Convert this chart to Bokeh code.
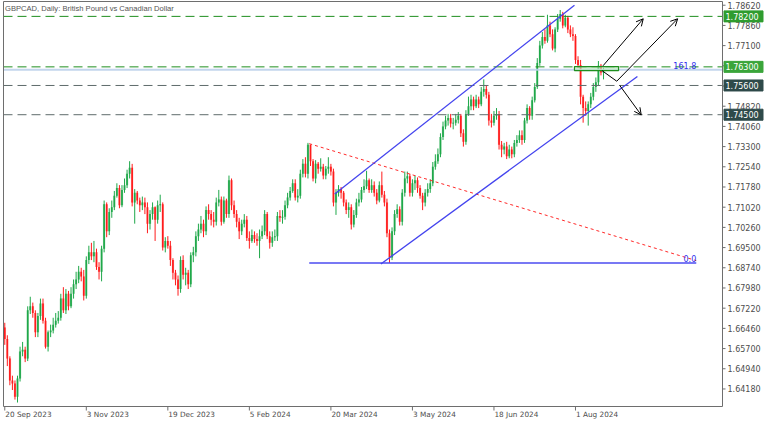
from bokeh.plotting import figure
from bokeh.models import ColumnDataSource, Arrow, OpenHead
from bokeh.core.properties import value
from bokeh.embed import file_html
from bokeh.resources import INLINE

# ---------------- data ----------------
title_text = "GBPCAD, Daily:  British Pound vs Canadian Dollar"

first_open = 1.6649
closes = [1.6606,1.6533,1.6450,1.6439,1.6389,1.6457,1.6559,1.6566,1.6533,1.6714,
1.6729,1.6704,1.6631,1.6693,1.6740,1.6675,1.6577,1.6631,1.6638,1.6660,
1.6675,1.6686,1.6758,1.6714,1.6776,1.6729,1.6776,1.6812,1.6830,1.6859,
1.6841,1.6769,1.6903,1.6932,1.6917,1.6932,1.6877,1.6859,1.6946,1.7113,
1.7011,1.7084,1.7102,1.7145,1.7174,1.7109,1.7167,1.7185,1.7228,1.7250,
1.7120,1.7156,1.7127,1.7109,1.7120,1.7102,1.7040,1.7076,1.7102,1.7055,
1.7109,1.7113,1.6950,1.6975,1.6957,1.6903,1.6855,1.6830,1.6794,1.6903,
1.6848,1.6855,1.6812,1.6921,1.6932,1.6993,1.7018,1.7040,1.7011,1.7091,
1.7076,1.7055,1.7047,1.7120,1.7131,1.7047,1.7127,1.7076,1.7203,1.7109,
1.7076,1.7047,1.7011,1.7040,1.7055,1.6986,1.6975,1.6997,1.6982,1.6975,
1.6993,1.7011,1.7076,1.6993,1.6968,1.6989,1.6993,1.7069,1.7062,1.7066,
1.7109,1.7138,1.7163,1.7192,1.7138,1.7145,1.7228,1.7265,1.7228,1.7337,
1.7275,1.7210,1.7265,1.7247,1.7254,1.7221,1.7247,1.7254,1.7236,1.7120,
1.7156,1.7170,1.7156,1.7120,1.7091,1.7102,1.7037,1.7073,1.7120,1.7131,
1.7167,1.7181,1.7203,1.7167,1.7185,1.7156,1.7127,1.7185,1.7149,1.7120,
1.7004,1.6913,1.7011,1.7076,1.7094,1.7047,1.7156,1.7210,1.7218,1.7156,
1.7192,1.7203,1.7174,1.7145,1.7120,1.7156,1.7170,1.7192,1.7254,1.7275,
1.7301,1.7366,1.7406,1.7428,1.7438,1.7417,1.7420,1.7431,1.7446,1.7380,
1.7348,1.7453,1.7482,1.7507,1.7482,1.7507,1.7489,1.7536,1.7547,1.7525,
1.7428,1.7420,1.7446,1.7453,1.7337,1.7319,1.7330,1.7294,1.7319,1.7301,
1.7344,1.7355,1.7373,1.7355,1.7428,1.7475,1.7446,1.7504,1.7554,1.7645,
1.7710,1.7742,1.7728,1.7786,1.7753,1.7699,1.7771,1.7811,1.7829,1.7786,
1.7815,1.7771,1.7753,1.7746,1.7656,1.7637,1.7518,1.7475,1.7464,1.7489,
1.7518,1.7554,1.7572,1.7634,1.7609,1.7612]

highs = [1.6667,1.6620,1.6541,1.6468,1.6450,1.6468,1.6577,1.6595,1.6577,1.6729,
1.6765,1.6743,1.6714,1.6704,1.6758,1.6758,1.6686,1.6638,1.6660,1.6686,
1.6704,1.6711,1.6776,1.6801,1.6794,1.6787,1.6801,1.6830,1.6859,1.6881,
1.6874,1.6866,1.6917,1.6957,1.6968,1.6975,1.6946,1.6895,1.6957,1.7127,
1.7120,1.7098,1.7127,1.7163,1.7192,1.7185,1.7185,1.7210,1.7243,1.7275,
1.7265,1.7170,1.7163,1.7138,1.7142,1.7138,1.7120,1.7091,1.7120,1.7105,
1.7127,1.7149,1.7120,1.6989,1.6993,1.6975,1.6910,1.6866,1.6845,1.6917,
1.6921,1.6874,1.6866,1.6932,1.6953,1.7011,1.7040,1.7069,1.7055,1.7105,
1.7113,1.7091,1.7084,1.7138,1.7167,1.7142,1.7142,1.7134,1.7221,1.7210,
1.7127,1.7091,1.7062,1.7055,1.7076,1.7069,1.7011,1.7018,1.7011,1.7004,
1.7018,1.7033,1.7091,1.7084,1.7011,1.7011,1.7018,1.7084,1.7091,1.7091,
1.7127,1.7156,1.7178,1.7207,1.7207,1.7170,1.7243,1.7283,1.7290,1.7344,
1.7337,1.7283,1.7279,1.7272,1.7286,1.7265,1.7257,1.7290,1.7265,1.7247,
1.7170,1.7185,1.7178,1.7163,1.7131,1.7120,1.7113,1.7091,1.7134,1.7156,
1.7178,1.7207,1.7239,1.7210,1.7207,1.7199,1.7170,1.7199,1.7236,1.7163,
1.7134,1.7018,1.7026,1.7091,1.7113,1.7105,1.7170,1.7236,1.7236,1.7228,
1.7207,1.7221,1.7214,1.7185,1.7156,1.7170,1.7192,1.7207,1.7272,1.7301,
1.7323,1.7380,1.7424,1.7446,1.7453,1.7453,1.7438,1.7453,1.7460,1.7453,
1.7395,1.7467,1.7518,1.7525,1.7518,1.7525,1.7518,1.7554,1.7583,1.7561,
1.7536,1.7453,1.7464,1.7475,1.7464,1.7351,1.7344,1.7348,1.7337,1.7330,
1.7355,1.7373,1.7391,1.7391,1.7438,1.7489,1.7482,1.7518,1.7569,1.7663,
1.7728,1.7761,1.7771,1.7826,1.7800,1.7771,1.7779,1.7829,1.7844,1.7837,
1.7826,1.7822,1.7786,1.7779,1.7753,1.7670,1.7656,1.7525,1.7500,1.7500,
1.7532,1.7569,1.7590,1.7652,1.7641,1.7627]

lows = [1.6584,1.6504,1.6432,1.6414,1.6378,1.6367,1.6446,1.6541,1.6519,1.6523,
1.6700,1.6686,1.6613,1.6613,1.6678,1.6664,1.6570,1.6559,1.6613,1.6627,
1.6649,1.6664,1.6675,1.6704,1.6700,1.6714,1.6722,1.6758,1.6794,1.6816,
1.6823,1.6751,1.6758,1.6888,1.6903,1.6895,1.6866,1.6830,1.6823,1.6932,
1.6989,1.6997,1.7062,1.7091,1.7138,1.7098,1.7102,1.7156,1.7174,1.7210,
1.7105,1.7040,1.7113,1.7084,1.7091,1.7076,1.7004,1.7018,1.7055,1.6975,
1.7040,1.7084,1.6939,1.6932,1.6946,1.6881,1.6830,1.6808,1.6769,1.6780,
1.6830,1.6808,1.6794,1.6801,1.6895,1.6917,1.6975,1.7004,1.6989,1.6997,
1.7055,1.7033,1.7026,1.7033,1.7105,1.7033,1.7040,1.7062,1.7062,1.7091,
1.7062,1.7026,1.6982,1.6997,1.7026,1.6975,1.6946,1.6968,1.6968,1.6957,
1.6910,1.6982,1.6997,1.6982,1.6946,1.6953,1.6975,1.6975,1.7047,1.7040,
1.7055,1.7098,1.7127,1.7156,1.7127,1.7120,1.7134,1.7214,1.7214,1.7210,
1.7257,1.7199,1.7192,1.7228,1.7236,1.7207,1.7207,1.7228,1.7221,1.7105,
1.7073,1.7142,1.7134,1.7105,1.7076,1.7062,1.7018,1.7026,1.7062,1.7105,
1.7120,1.7156,1.7170,1.7156,1.7156,1.7142,1.7113,1.7120,1.7138,1.7105,
1.6989,1.6892,1.6903,1.6997,1.7062,1.7033,1.7033,1.7142,1.7192,1.7142,
1.7142,1.7167,1.7156,1.7134,1.7091,1.7105,1.7142,1.7156,1.7181,1.7243,
1.7265,1.7290,1.7355,1.7395,1.7409,1.7402,1.7395,1.7409,1.7417,1.7366,
1.7330,1.7337,1.7446,1.7467,1.7467,1.7475,1.7475,1.7482,1.7518,1.7511,
1.7409,1.7402,1.7409,1.7431,1.7319,1.7290,1.7301,1.7283,1.7286,1.7286,
1.7290,1.7330,1.7344,1.7337,1.7344,1.7417,1.7431,1.7431,1.7496,1.7547,
1.7634,1.7699,1.7717,1.7721,1.7742,1.7692,1.7685,1.7761,1.7800,1.7775,
1.7779,1.7757,1.7742,1.7728,1.7641,1.7627,1.7489,1.7420,1.7446,1.7409,
1.7475,1.7504,1.7536,1.7561,1.7598,1.7583]

opens = [first_open] + closes[:-1]
bars = list(range(len(closes)))

date_tick_bars = [0, 32, 64, 96, 128, 160, 192, 224]
date_tick_labels = ["20 Sep 2023", "3 Nov 2023", "19 Dec 2023", "5 Feb 2024",
                    "20 Mar 2024", "3 May 2024", "18 Jun 2024", "1 Aug 2024"]
price_ticks = [1.7862, 1.7786, 1.7710, 1.7634, 1.7558, 1.7482, 1.7406, 1.7330, 1.7254,
               1.7178, 1.7102, 1.7026, 1.6950, 1.6874, 1.6798, 1.6722, 1.6646, 1.6570,
               1.6494, 1.6418]

green_levels = [1.7820, 1.7630]
gray_levels = [1.7560, 1.7450]
fib_1618_level = 1.7619
fib_zero_level = 1.6892
fib_bars = [119.5, 271.4]
fib_trend_prices = [1.7341, 1.6901]
channel_upper_bars = [129.5, 223.6]
channel_upper_prices = [1.7152, 1.7862]
channel_lower_bars = [147.6, 248.3]
channel_lower_prices = [1.6888, 1.7594]
zone_bars = [223.6, 240.9]
zone_prices = [1.7616, 1.7631]
arrow_a = [(234.8, 1.7634), (250.6, 1.7811)]
arrow_b = [(234.4, 1.7616), (240.2, 1.7576), (264.1, 1.7811)]
arrow_c = [(241.3, 1.7561), (249.8, 1.7449)]

# ---------------- layout constants ----------------
W, H = 764, 424
LB, RS, TB, BS = 3, 42, 1, 18          # left border, right scale strip, top border, bottom strip
CW, CH = W - LB - RS, H - TB - BS       # chart area in px
X0, X1 = -0.5, 281.7                    # visible bars
Y0, Y1 = 1.6352, 1.7876                 # visible prices
BX = (X1 - X0) / CW                     # bars per px
PY = (Y1 - Y0) / CH                     # price per px
FONT = "DejaVu Sans"
AX = "#6e6e6e"
TXT = "#4d4d4d"

p = figure(width=W, height=H,
           x_range=(X0 - LB * BX, X1 + RS * BX), y_range=(Y0 - BS * PY, Y1 + TB * PY),
           output_backend="svg", toolbar_location=None,
           x_axis_type=None, y_axis_type=None)
p.min_border = 0
p.min_border_left = p.min_border_right = p.min_border_top = p.min_border_bottom = 0
p.outline_line_color = None
p.background_fill_color = "white"
p.border_fill_color = "white"
p.xgrid.visible = False
p.ygrid.visible = False

# ---------------- candles ----------------
bull = "#1fa84a"
bear = "#ff1c1c"
colors = [bull if c >= o else bear for o, c in zip(opens, closes)]
ghost = ["#a9dcb6" if c >= o else "#ffb3b3" for o, c in zip(opens, closes)]
src = ColumnDataSource(dict(x=bars, o=opens, c=closes, h=highs, l=lows,
                            top=[max(o, c) for o, c in zip(opens, closes)],
                            bot=[min(o, c) for o, c in zip(opens, closes)],
                            col=colors, gcol=ghost))
p.vbar(x="x", width=1.0, top="top", bottom="bot", fill_color="gcol", line_color=None,
       fill_alpha=0.6, source=src)
p.segment(x0="x", y0="h", x1="x", y1="l", line_color="col", line_width=1, source=src)
p.vbar(x="x", width=0.62, top="top", bottom="bot", fill_color="col", line_color=None,
       source=src)

# ---------------- drawn objects ----------------
p.segment(x0=[X0], x1=[X1], y0=[fib_1618_level], y1=[fib_1618_level],
          line_color="#bcd0ea", line_width=2, line_alpha=0.9)
p.segment(x0=[X0] * 2, x1=[X1] * 2, y0=green_levels, y1=green_levels,
          line_color="#1f8f1f", line_dash="9 5", line_width=1)
p.segment(x0=[X0] * 2, x1=[X1] * 2, y0=gray_levels, y1=gray_levels,
          line_color="#5f6b6b", line_dash="9 5", line_width=1)

p.line(fib_bars, fib_trend_prices, line_color="#ff2a2a", line_dash="3 3", line_width=1)
p.line(fib_bars, [fib_zero_level, fib_zero_level], line_color="#4b4bf0", line_width=1.3)
p.line(channel_upper_bars, channel_upper_prices, line_color="#4343ee", line_width=1.3)
p.line(channel_lower_bars, channel_lower_prices, line_color="#4343ee", line_width=1.3)

p.quad(left=[zone_bars[0]], right=[zone_bars[1]], bottom=[zone_prices[0]], top=[zone_prices[1]],
       fill_color="#b8e6b8", fill_alpha=0.6, line_color="#1f8f1f", line_width=1.2)

p.line([arrow_b[0][0], arrow_b[1][0]], [arrow_b[0][1], arrow_b[1][1]], line_color="black", line_width=1)
for (xs, ys), (xe, ye) in [(arrow_a[0], arrow_a[1]), (arrow_b[1], arrow_b[2]), (arrow_c[0], arrow_c[1])]:
    p.add_layout(Arrow(end=OpenHead(size=7, line_color="black", line_width=1),
                       x_start=xs, y_start=ys, x_end=xe, y_end=ye,
                       line_color="black", line_width=1))

p.text(x=[fib_bars[1], fib_bars[1]], y=[fib_1618_level + 1 * PY, fib_zero_level + 1 * PY],
       text=["161.8", "0.0"], text_align="right", text_baseline="bottom",
       text_font=value(FONT), text_font_size=value("8px"), text_color="#3030ee")

# ---------------- frame and scales ----------------
p.line([X0, X0, X1, X1, X0], [Y0, Y1, Y1, Y0, Y0], line_color=AX, line_width=1)

# price scale (right)
p.segment(x0=[X1] * len(price_ticks), x1=[X1 + 3 * BX] * len(price_ticks),
          y0=price_ticks, y1=price_ticks, line_color=AX, line_width=1)
tag_levels = green_levels + gray_levels
shown = [t for t in price_ticks if all(abs(t - lv) > 7 * PY for lv in tag_levels)]
p.text(x=[X1 + 5 * BX] * len(shown), y=shown, text=[f"{t:.5f}" for t in shown],
       text_align="left", text_baseline="middle", text_font=value(FONT),
       text_font_size=value("8px"), text_color=TXT)

# date scale (bottom)
p.segment(x0=date_tick_bars, x1=date_tick_bars, y0=[Y0] * 8, y1=[Y0 - 4 * PY] * 8,
          line_color=AX, line_width=1)
p.text(x=[b + 0.5 * BX for b in date_tick_bars], y=[Y0 - 3 * PY] * 8, text=date_tick_labels,
       text_align="left", text_baseline="top", text_font=value(FONT),
       text_font_size=value("7.3px"), text_color=TXT)

# price tags
tag_colors = ["#2f9c2f", "#3aa53a", "#2e4a4a", "#2e4a4a"]
p.rect(x=[X1 + 21 * BX] * 4, y=tag_levels, width=39 * BX, height=11 * PY,
       fill_color=tag_colors, line_color=tag_colors)
p.text(x=[X1 + 3 * BX] * 4, y=tag_levels, text=[f"{lv:.5f}" for lv in tag_levels],
       text_align="left", text_baseline="middle", text_font=value(FONT),
       text_font_size=value("8px"), text_color="white")

# title
p.text(x=[X0 + 1.5 * BX], y=[Y1 - 2 * PY], text=[title_text], text_align="left",
       text_baseline="top", text_font=value("Liberation Sans"),
       text_font_size=value("7.6px"), text_color="#555555")

open("out.html", "w").write(file_html(p, INLINE))
